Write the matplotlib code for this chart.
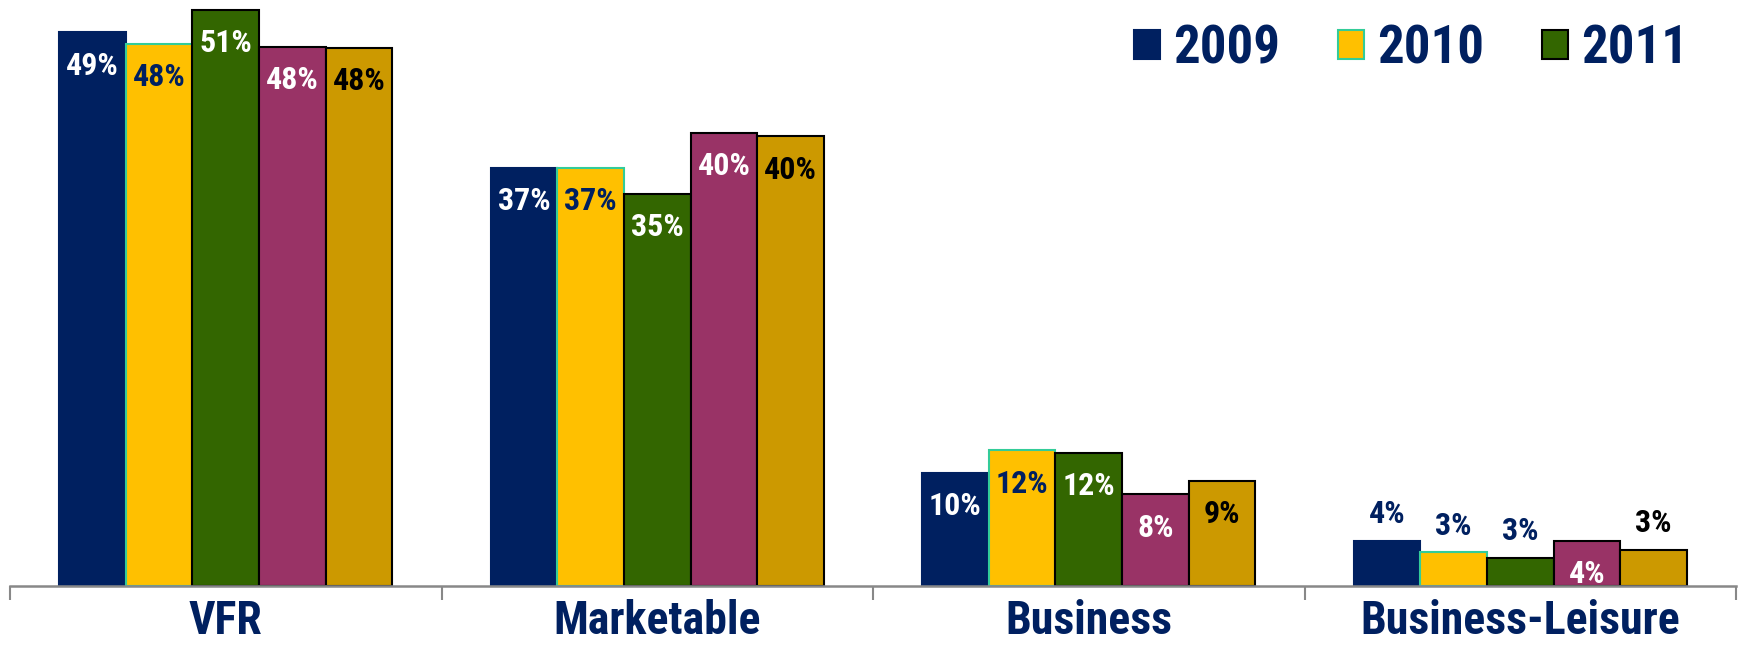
import matplotlib
matplotlib.use("Agg")
import matplotlib.pyplot as plt
import numpy as np

plt.rcParams["font.family"] = ["Roboto Condensed", "Liberation Sans", "DejaVu Sans"]
plt.rcParams["font.weight"] = "bold"

categories = ["VFR", "Marketable", "Business", "Business-Leisure"]
series_names = ["2009", "2010", "2011", "s4", "s5"]

# bar heights (percent)
vals_2009 = [49.0, 37.0, 10.0, 4.0]
vals_2010 = [48.0, 37.0, 12.0, 3.0]
vals_2011 = [51.0, 34.7, 11.8, 2.5]
vals_s4 = [47.7, 40.1, 8.1, 4.0]
vals_s5 = [47.6, 39.8, 9.3, 3.2]

labels_2009 = ["49%", "37%", "10%", "4%"]
labels_2010 = ["48%", "37%", "12%", "3%"]
labels_2011 = ["51%", "35%", "12%", "3%"]
labels_s4 = ["48%", "40%", "8%", "4%"]
labels_s5 = ["48%", "40%", "9%", "3%"]

NAVY = "#002060"
fills = [NAVY, "#FFC000", "#336600", "#993366", "#CC9900"]
edges = [NAVY, "#33CC99", "#000000", "#000000", "#000000"]
inside_colors = ["white", NAVY, "white", "white", "black"]
outside_colors = [NAVY, NAVY, NAVY, NAVY, "black"]
# which series put their label above the bar in the last group
above_last = [True, True, True, False, True]

all_vals = [vals_2009, vals_2010, vals_2011, vals_s4, vals_s5]
all_labels = [labels_2009, labels_2010, labels_2011, labels_s4, labels_s5]

fig = plt.figure(figsize=(17.4, 6.54), dpi=100)
ax = fig.add_axes([10 / 1740, 1 - 586 / 654, 1726 / 1740, 586 / 654])

x = np.arange(len(categories))
w = 0.1545
bars = []
for j, (v, lab) in enumerate(zip(all_vals, all_labels)):
    b = ax.bar(x + (j - 2) * w, v, w, color=fills[j], edgecolor=edges[j],
               linewidth=1.5, label=series_names[j], zorder=2)
    bars.append(b)
    for i, rect in enumerate(b):
        h = rect.get_height()
        cx = rect.get_x() + rect.get_width() / 2
        if i == len(categories) - 1 and above_last[j]:
            ax.annotate(lab[i], (cx, h), xytext=(0, 19), textcoords="offset points",
                        ha="center", va="center", fontsize=23, color=outside_colors[j])
        else:
            # label inside, near the top
            ax.annotate(lab[i], (cx, h), xytext=(0, -24), textcoords="offset points",
                        ha="center", va="center", fontsize=23, color=inside_colors[j])

ax.set_xlim(-0.5, len(categories) - 0.5)
ax.set_ylim(0, 586 / 11.3)

for s in ["top", "right", "left"]:
    ax.spines[s].set_visible(False)
ax.spines["bottom"].set_color("#888888")
ax.spines["bottom"].set_linewidth(1.8)
ax.spines["bottom"].set_zorder(3)
ax.set_yticks([])

ax.set_xticks(np.arange(len(categories) + 1) - 0.5)
ax.set_xticklabels([])
ax.tick_params(axis="x", which="major", length=10, width=1.5, color="#888888", direction="out")
ax.set_xticks(x, minor=True)
ax.set_xticklabels(categories, minor=True, fontsize=33, color=NAVY, fontweight="bold")
ax.tick_params(axis="x", which="minor", length=0, pad=9)

leg = ax.legend(handles=bars[:3], labels=series_names[:3], ncol=3, frameon=False,
                loc="center right", bbox_to_anchor=(0.9722, 0.917), fontsize=38,
                handlelength=0.49, handleheight=0.49, handletextpad=0.25,
                columnspacing=1.1, borderaxespad=0, borderpad=0)
for t in leg.get_texts():
    t.set_color(NAVY)
    t.set_fontweight("bold")

fig.savefig("out.png", dpi=100)
